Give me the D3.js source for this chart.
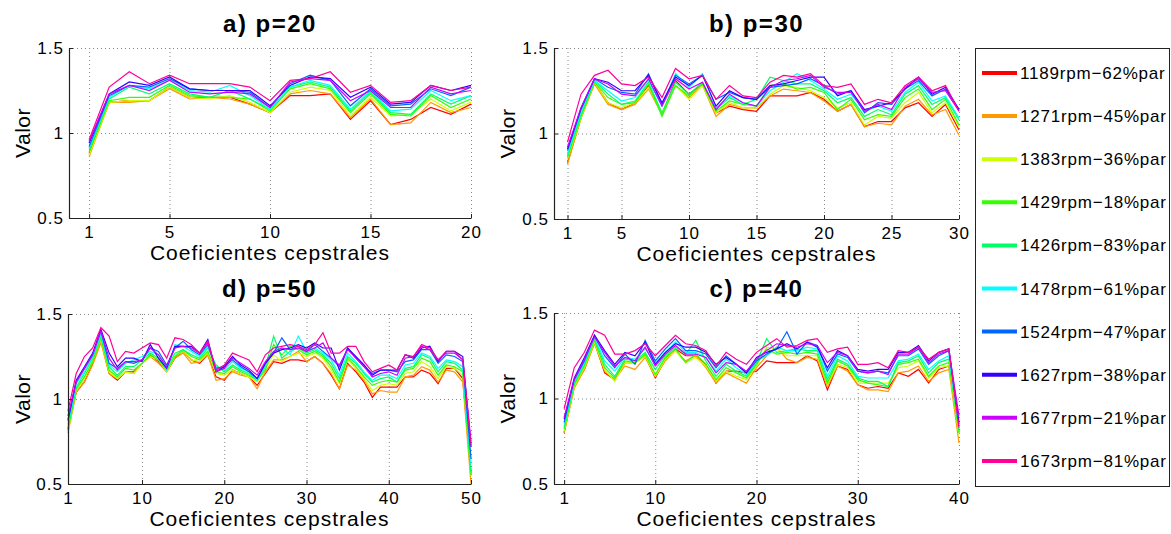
<!DOCTYPE html>
<html>
<head>
<meta charset="utf-8">
<script src="https://cdn.jsdelivr.net/npm/d3@7"></script>
<style>
  body { margin: 0; background: #fff; }
  text { font-family: Arial, 'Liberation Sans', sans-serif; fill: #000; }
</style>
</head>
<body>
<script>
const width = 1171;
const height = 534;

const seriesNames = ['1189rpm\u221262%par', '1271rpm\u221245%par', '1383rpm\u221236%par', '1429rpm\u221218%par', '1426rpm\u221283%par',
    '1478rpm\u221261%par', '1524rpm\u221247%par', '1627rpm\u221238%par', '1677rpm\u221221%par', '1673rpm\u221281%par'];
const colors = ['#ff0000', '#ff9900', '#ccff00', '#33ff00', '#00ff66', '#00ffff', '#0066ff', '#3300ff', '#cc00ff', '#ff0099'];

const yTicks = [0.5, 1, 1.5];

// one row per series, same order as seriesNames
const p20 = [
    [.88,1.18,1.19,1.19,1.27,1.21,1.21,1.21,1.17,1.12,1.22,1.22,1.23,1.08,1.19,1.05,1.08,1.15,1.11,1.17],
    [.86,1.18,1.18,1.19,1.26,1.20,1.21,1.20,1.17,1.12,1.23,1.25,1.23,1.09,1.20,1.05,1.06,1.18,1.12,1.15],
    [.87,1.18,1.19,1.19,1.27,1.21,1.20,1.22,1.18,1.12,1.24,1.27,1.25,1.10,1.21,1.10,1.11,1.20,1.13,1.18],
    [.89,1.19,1.21,1.21,1.28,1.22,1.21,1.21,1.20,1.13,1.26,1.29,1.26,1.12,1.23,1.11,1.10,1.22,1.15,1.20],
    [.90,1.20,1.27,1.23,1.29,1.23,1.21,1.25,1.20,1.14,1.27,1.30,1.27,1.13,1.24,1.12,1.11,1.23,1.17,1.22],
    [.91,1.21,1.28,1.26,1.31,1.25,1.24,1.28,1.22,1.14,1.27,1.31,1.28,1.14,1.25,1.13,1.14,1.25,1.19,1.22],
    [.92,1.22,1.28,1.27,1.32,1.26,1.25,1.25,1.24,1.15,1.29,1.34,1.31,1.16,1.26,1.16,1.17,1.26,1.22,1.27],
    [.94,1.23,1.30,1.28,1.33,1.26,1.25,1.25,1.25,1.16,1.28,1.33,1.32,1.21,1.27,1.17,1.18,1.28,1.25,1.28],
    [.95,1.23,1.28,1.25,1.31,1.24,1.23,1.24,1.23,1.15,1.30,1.32,1.31,1.19,1.25,1.15,1.15,1.27,1.23,1.25],
    [.96,1.27,1.36,1.29,1.34,1.29,1.29,1.29,1.27,1.19,1.31,1.32,1.36,1.24,1.28,1.18,1.19,1.28,1.25,1.27]
];

const p30 = [
    [.83,1.09,1.30,1.18,1.14,1.18,1.28,1.11,1.31,1.23,1.29,1.12,1.16,1.14,1.13,1.22,1.22,1.22,1.24,1.20,1.13,1.17,1.04,1.07,1.07,1.15,1.18,1.10,1.17,1.02],
    [.82,1.09,1.29,1.17,1.14,1.17,1.26,1.11,1.28,1.21,1.28,1.10,1.17,1.15,1.15,1.22,1.26,1.25,1.24,1.19,1.13,1.17,1.04,1.06,1.05,1.16,1.20,1.11,1.14,.99],
    [.85,1.09,1.30,1.18,1.15,1.18,1.27,1.12,1.28,1.20,1.28,1.12,1.18,1.15,1.15,1.23,1.28,1.27,1.25,1.21,1.15,1.18,1.05,1.10,1.09,1.18,1.24,1.12,1.18,1.04],
    [.86,1.10,1.30,1.21,1.17,1.18,1.29,1.10,1.28,1.22,1.29,1.13,1.19,1.17,1.16,1.28,1.29,1.26,1.27,1.24,1.14,1.20,1.08,1.11,1.10,1.21,1.26,1.14,1.20,1.05],
    [.87,1.11,1.31,1.23,1.17,1.19,1.30,1.12,1.30,1.23,1.30,1.14,1.21,1.17,1.20,1.33,1.31,1.29,1.29,1.25,1.18,1.21,1.10,1.14,1.11,1.23,1.28,1.17,1.21,1.08],
    [.88,1.13,1.31,1.25,1.19,1.21,1.31,1.16,1.35,1.27,1.35,1.15,1.22,1.18,1.16,1.25,1.30,1.35,1.31,1.26,1.20,1.23,1.13,1.16,1.13,1.24,1.30,1.19,1.22,1.09],
    [.90,1.14,1.32,1.27,1.24,1.23,1.35,1.17,1.34,1.29,1.34,1.20,1.24,1.21,1.20,1.27,1.28,1.29,1.32,1.28,1.23,1.25,1.12,1.18,1.17,1.26,1.31,1.22,1.26,1.14],
    [.91,1.15,1.32,1.30,1.25,1.25,1.34,1.18,1.33,1.28,1.34,1.16,1.25,1.21,1.20,1.28,1.29,1.31,1.33,1.33,1.22,1.25,1.14,1.16,1.18,1.26,1.33,1.23,1.27,1.14],
    [.92,1.15,1.32,1.29,1.23,1.22,1.32,1.16,1.32,1.26,1.30,1.14,1.23,1.18,1.16,1.27,1.31,1.32,1.34,1.27,1.24,1.24,1.13,1.17,1.14,1.27,1.32,1.24,1.25,1.13],
    [.95,1.23,1.34,1.37,1.29,1.28,1.33,1.21,1.38,1.32,1.34,1.20,1.28,1.22,1.21,1.30,1.34,1.33,1.35,1.28,1.27,1.29,1.17,1.20,1.18,1.28,1.33,1.25,1.28,1.13]
];

const p50 = [
    [.82,1.04,1.10,1.21,1.35,1.15,1.11,1.16,1.16,1.21,1.26,1.22,1.16,1.24,1.28,1.23,1.21,1.26,1.13,1.11,1.17,1.15,1.13,1.08,1.15,1.22,1.21,1.23,1.23,1.22,1.25,1.21,1.14,1.06,1.21,1.16,1.10,1.01,1.07,1.07,1.07,1.13,1.13,1.17,1.15,1.09,1.18,1.18,1.12,.56],
    [.80,1.04,1.10,1.20,1.33,1.15,1.12,1.16,1.15,1.21,1.25,1.21,1.16,1.24,1.27,1.21,1.22,1.26,1.11,1.12,1.16,1.14,1.13,1.06,1.16,1.23,1.23,1.25,1.28,1.22,1.25,1.21,1.15,1.06,1.20,1.17,1.11,1.03,1.05,1.04,1.04,1.13,1.14,1.19,1.17,1.10,1.17,1.16,1.10,.50],
    [.81,1.05,1.12,1.22,1.35,1.16,1.12,1.16,1.15,1.21,1.25,1.23,1.16,1.25,1.28,1.23,1.22,1.27,1.15,1.14,1.17,1.15,1.13,1.10,1.18,1.26,1.22,1.25,1.27,1.25,1.27,1.24,1.17,1.09,1.23,1.18,1.12,1.05,1.08,1.09,1.08,1.15,1.16,1.22,1.19,1.12,1.19,1.18,1.14,.55],
    [.82,1.06,1.13,1.22,1.36,1.17,1.13,1.18,1.17,1.21,1.26,1.23,1.17,1.25,1.29,1.25,1.23,1.28,1.16,1.15,1.19,1.16,1.14,1.11,1.17,1.32,1.26,1.31,1.29,1.26,1.28,1.25,1.19,1.10,1.24,1.19,1.13,1.08,1.10,1.11,1.10,1.17,1.18,1.24,1.22,1.14,1.20,1.19,1.16,.55],
    [.83,1.07,1.15,1.24,1.37,1.19,1.14,1.19,1.19,1.23,1.27,1.24,1.18,1.27,1.29,1.26,1.24,1.30,1.20,1.16,1.20,1.17,1.15,1.11,1.19,1.37,1.24,1.28,1.30,1.27,1.29,1.26,1.21,1.12,1.25,1.21,1.15,1.10,1.12,1.13,1.10,1.18,1.19,1.26,1.24,1.16,1.22,1.21,1.17,.57],
    [.85,1.09,1.16,1.25,1.38,1.20,1.16,1.21,1.23,1.25,1.28,1.26,1.17,1.32,1.31,1.28,1.25,1.31,1.19,1.17,1.22,1.18,1.16,1.11,1.20,1.28,1.30,1.26,1.37,1.28,1.30,1.27,1.23,1.14,1.27,1.22,1.16,1.11,1.14,1.14,1.12,1.20,1.21,1.27,1.25,1.18,1.23,1.22,1.19,.62],
    [.87,1.10,1.18,1.26,1.40,1.21,1.18,1.22,1.21,1.23,1.30,1.28,1.20,1.30,1.34,1.29,1.26,1.32,1.18,1.19,1.23,1.19,1.16,1.12,1.21,1.27,1.36,1.29,1.31,1.28,1.32,1.28,1.24,1.19,1.30,1.24,1.19,1.15,1.17,1.17,1.16,1.22,1.23,1.29,1.29,1.21,1.26,1.25,1.22,.65],
    [.88,1.11,1.19,1.27,1.41,1.27,1.19,1.24,1.24,1.22,1.32,1.24,1.18,1.31,1.31,1.31,1.27,1.35,1.16,1.19,1.25,1.20,1.17,1.12,1.21,1.27,1.29,1.30,1.32,1.30,1.33,1.30,1.30,1.17,1.30,1.25,1.20,1.14,1.17,1.17,1.17,1.26,1.24,1.30,1.31,1.22,1.28,1.28,1.25,.72],
    [.90,1.10,1.18,1.26,1.40,1.24,1.17,1.22,1.22,1.23,1.30,1.26,1.19,1.30,1.31,1.30,1.27,1.33,1.16,1.18,1.24,1.21,1.18,1.14,1.22,1.28,1.30,1.29,1.30,1.28,1.30,1.33,1.24,1.20,1.29,1.24,1.19,1.13,1.15,1.16,1.14,1.24,1.25,1.31,1.29,1.23,1.27,1.27,1.23,.75],
    [.93,1.15,1.25,1.30,1.42,1.37,1.22,1.28,1.27,1.30,1.33,1.32,1.24,1.36,1.35,1.32,1.27,1.34,1.17,1.20,1.27,1.25,1.23,1.16,1.26,1.30,1.31,1.32,1.31,1.29,1.32,1.39,1.27,1.27,1.31,1.31,1.22,1.16,1.18,1.20,1.17,1.26,1.25,1.32,1.30,1.23,1.28,1.28,1.23,.73]
];

const p40 = [
    [.80,1.07,1.17,1.33,1.15,1.11,1.21,1.21,1.25,1.12,1.23,1.29,1.25,1.25,1.20,1.09,1.16,1.16,1.15,1.16,1.22,1.21,1.21,1.21,1.25,1.22,1.05,1.19,1.17,1.08,1.06,1.07,1.06,1.15,1.13,1.17,1.09,1.17,1.19,.80],
    [.80,1.06,1.17,1.32,1.16,1.11,1.19,1.17,1.24,1.13,1.22,1.28,1.22,1.25,1.18,1.09,1.15,1.12,1.09,1.18,1.25,1.30,1.23,1.21,1.24,1.23,1.07,1.19,1.16,1.08,1.05,1.05,1.04,1.15,1.16,1.19,1.10,1.15,1.17,.74],
    [.81,1.07,1.18,1.33,1.17,1.10,1.21,1.21,1.25,1.13,1.23,1.28,1.21,1.24,1.19,1.10,1.16,1.13,1.11,1.19,1.30,1.29,1.25,1.25,1.25,1.25,1.08,1.20,1.18,1.09,1.09,1.09,1.09,1.18,1.19,1.22,1.12,1.18,1.19,.79],
    [.82,1.08,1.19,1.34,1.18,1.12,1.22,1.21,1.26,1.14,1.24,1.29,1.21,1.26,1.20,1.11,1.18,1.15,1.12,1.20,1.29,1.26,1.27,1.26,1.27,1.26,1.09,1.22,1.19,1.11,1.09,1.08,1.07,1.20,1.21,1.23,1.13,1.19,1.21,.80],
    [.83,1.09,1.20,1.35,1.20,1.13,1.23,1.22,1.27,1.17,1.25,1.30,1.26,1.34,1.22,1.13,1.20,1.16,1.13,1.21,1.35,1.27,1.28,1.29,1.28,1.28,1.11,1.23,1.20,1.12,1.10,1.10,1.07,1.21,1.22,1.25,1.15,1.21,1.23,.82],
    [.85,1.10,1.21,1.36,1.22,1.16,1.24,1.23,1.29,1.21,1.27,1.33,1.27,1.27,1.24,1.16,1.23,1.18,1.14,1.22,1.25,1.30,1.28,1.28,1.30,1.29,1.13,1.25,1.22,1.13,1.12,1.12,1.12,1.22,1.23,1.26,1.17,1.22,1.25,.84],
    [.86,1.11,1.22,1.37,1.25,1.18,1.26,1.20,1.34,1.22,1.29,1.35,1.28,1.28,1.26,1.18,1.25,1.20,1.15,1.22,1.26,1.29,1.39,1.26,1.33,1.31,1.16,1.26,1.24,1.16,1.15,1.16,1.15,1.25,1.25,1.29,1.20,1.25,1.28,.85],
    [.88,1.12,1.24,1.37,1.28,1.20,1.27,1.25,1.33,1.20,1.27,1.32,1.30,1.30,1.27,1.20,1.24,1.20,1.15,1.24,1.27,1.29,1.32,1.29,1.33,1.30,1.18,1.28,1.25,1.17,1.16,1.17,1.17,1.27,1.27,1.31,1.22,1.27,1.29,.86],
    [.89,1.11,1.23,1.36,1.27,1.19,1.24,1.22,1.30,1.19,1.26,1.31,1.26,1.26,1.24,1.15,1.21,1.20,1.16,1.23,1.28,1.32,1.31,1.30,1.32,1.31,1.21,1.27,1.25,1.16,1.15,1.16,1.14,1.26,1.26,1.30,1.21,1.26,1.28,.90],
    [.94,1.18,1.27,1.40,1.37,1.26,1.26,1.28,1.32,1.25,1.31,1.37,1.32,1.31,1.28,1.19,1.27,1.23,1.20,1.27,1.31,1.35,1.30,1.31,1.34,1.35,1.27,1.29,1.30,1.20,1.20,1.21,1.18,1.28,1.27,1.30,1.23,1.27,1.29,.83]
];

const panels = [
    { title: 'a) p=20', data: p20, xMin: 0, xTicks: [1, 5, 10, 15, 20], left: 69, right: 471, top: 48, bottom: 218, titleY: 32, labelX: 30 },
    { title: 'b) p=30', data: p30, xMin: 0, xTicks: [1, 5, 10, 15, 20, 25, 30], left: 554, right: 959, top: 48, bottom: 219, titleY: 32, labelX: 515 },
    { title: 'd) p=50', data: p50, xMin: 1, xTicks: [1, 10, 20, 30, 40, 50], left: 68, right: 471, top: 314, bottom: 484, titleY: 297, labelX: 30 },
    { title: 'c) p=40', data: p40, xMin: 0, xTicks: [1, 10, 20, 30, 40], left: 554, right: 959, top: 313, bottom: 484, titleY: 297, labelX: 515 }
];

const svg = d3.select('body').append('svg')
    .attr('width', width)
    .attr('height', height);

panels.forEach(p => {
    const n = p.data[0].length;
    const x = d3.scaleLinear().domain([p.xMin, n]).range([p.left, p.right]);
    const y = d3.scaleLinear().domain([0.5, 1.5]).range([p.bottom, p.top]);
    const g = svg.append('g');

    // dotted grid
    g.selectAll('.gx').data(p.xTicks).enter().append('line')
        .attr('x1', d => x(d) + 0.5).attr('x2', d => x(d) + 0.5)
        .attr('y1', p.top).attr('y2', p.bottom)
        .attr('stroke', '#888').attr('stroke-dasharray', '1,3');
    g.selectAll('.gy').data(yTicks).enter().append('line')
        .attr('x1', p.left).attr('x2', p.right)
        .attr('y1', d => y(d) + 0.5).attr('y2', d => y(d) + 0.5)
        .attr('stroke', '#888').attr('stroke-dasharray', '1,3');

    // series
    const line = d3.line().x((d, i) => x(i + 1)).y(d => y(d));
    p.data.forEach((s, i) => {
        g.append('path')
            .datum(s)
            .attr('d', line)
            .attr('fill', 'none')
            .attr('stroke', colors[i])
            .attr('stroke-width', 1.2);
    });

    // axes
    const xAxis = d3.axisBottom(x).tickValues(p.xTicks).tickSizeInner(-4).tickSizeOuter(0).tickPadding(8);
    const yAxis = d3.axisLeft(y).tickValues(yTicks).tickFormat(d3.format('')).tickSizeInner(-4).tickSizeOuter(0).tickPadding(5);
    const ax = g.append('g').attr('transform', `translate(0, ${p.bottom})`).call(xAxis);
    const ay = g.append('g').attr('transform', `translate(${p.left}, 0)`).call(yAxis);
    [ax, ay].forEach(a => {
        a.select('.domain').attr('stroke', '#222').attr('stroke-width', 1.2);
        a.selectAll('.tick line').attr('stroke', '#222');
        a.selectAll('.tick text')
            .attr('font-size', 17)
            .attr('letter-spacing', 1)
            .attr('font-family', "Arial, 'Liberation Sans', sans-serif")
            .attr('fill', '#000');
    });

    g.append('text')
        .attr('x', (p.left + p.right) / 2)
        .attr('y', p.titleY)
        .attr('text-anchor', 'middle')
        .style('font-size', '24px')
        .style('letter-spacing', '1.5px')
        .style('font-weight', 'bold')
        .text(p.title);

    g.append('text')
        .attr('x', (p.left + p.right) / 2)
        .attr('y', p.bottom + 41.5)
        .attr('text-anchor', 'middle')
        .style('font-size', '21px')
        .style('letter-spacing', '1px')
        .text('Coeficientes cepstrales');

    g.append('text')
        .attr('transform', `translate(${p.labelX}, ${(p.top + p.bottom) / 2}) rotate(-90)`)
        .attr('text-anchor', 'middle')
        .style('font-size', '21px')
        .style('letter-spacing', '0.5px')
        .text('Valor');
});

// legend
const legend = svg.append('g');
legend.append('rect')
    .attr('x', 975.5).attr('y', 48.5)
    .attr('width', 194).attr('height', 438)
    .attr('fill', '#fff').attr('stroke', '#222');

seriesNames.forEach((name, i) => {
    const cy = 73 + i * 43.1;
    legend.append('line')
        .attr('x1', 982).attr('x2', 1017)
        .attr('y1', cy).attr('y2', cy)
        .attr('stroke', colors[i]).attr('stroke-width', 4);
    legend.append('text')
        .attr('x', 1020).attr('y', cy + 6)
        .style('font-size', '17px')
        .style('letter-spacing', '0.8px')
        .text(name);
});
</script>
</body>
</html>
